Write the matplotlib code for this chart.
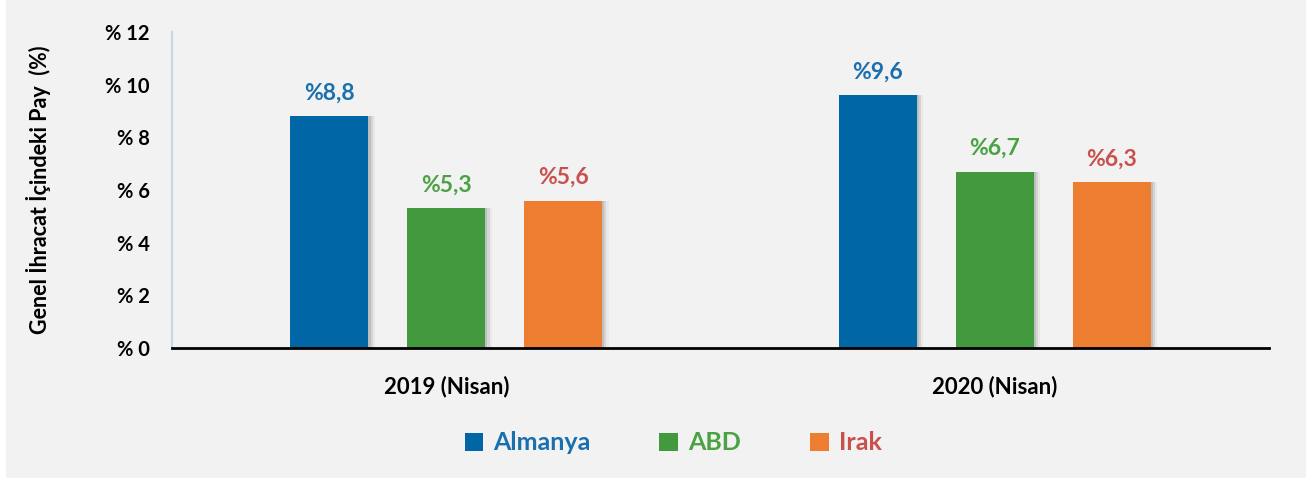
import numpy as np
import matplotlib.pyplot as plt
from matplotlib.patches import Patch, Rectangle

plt.rcParams['font.family'] = ['Lato', 'DejaVu Sans']

# data
periods = ['2019 (Nisan)', '2020 (Nisan)']
countries = ['Almanya', 'ABD', 'Irak']
almanya = [8.8, 9.6]
abd = [5.3, 6.7]
irak = [5.6, 6.3]
value_labels = [['%8,8', '%9,6'], ['%5,3', '%6,7'], ['%5,6', '%6,3']]

bar_colors = ['#0066a6', '#43993d', '#ed7d31']
text_colors = ['#1a6fae', '#4aa243', '#c9504d']

fig = plt.figure(figsize=(13.06, 4.82), dpi=100)
fig.patches.append(Rectangle((6 / 1306, 4 / 482), 1, 1, transform=fig.transFigure,
                             facecolor='#f2f2f2', edgecolor='none', zorder=-10))
ax = fig.add_axes([172 / 1306, 1 - 348 / 482, 1097 / 1306, 316 / 482])
ax.set_facecolor('none')

x = np.arange(len(periods))
width = 0.142
step = 0.213
series = [almanya, abd, irak]

for i, vals in enumerate(series):
    pos = x + (i - 1) * step
    # soft shadow on right side
    for k, a in enumerate([0.18, 0.12, 0.06]):
        ax.bar(pos + 0.004 + k * 0.004, vals, width, color='#555555', alpha=a,
               zorder=1, linewidth=0)
    ax.bar(pos, vals, width, color=bar_colors[i], zorder=2, linewidth=0)
    for p, v, lab in zip(pos, vals, value_labels[i]):
        ax.annotate(lab, (p, v), xytext=(0, 9), textcoords='offset points',
                    ha='center', va='bottom', fontsize=16.5, fontweight='bold',
                    color=text_colors[i])

ax.set_xlim(-0.5, 1.5)
ax.set_ylim(0, 12)
ax.set_yticks(range(0, 13, 2))
ax.set_yticklabels([f'% {t}' for t in range(0, 13, 2)], fontsize=14.5, fontweight='bold')
ax.set_xticks(x)
ax.set_xticklabels(periods, fontsize=16, fontweight='bold')
ax.tick_params(axis='y', length=0, pad=16)
ax.tick_params(axis='x', length=0, pad=20)

for s in ['top', 'right']:
    ax.spines[s].set_visible(False)
ax.spines['left'].set_color('#c5d5ea')
ax.spines['left'].set_linewidth(1.5)
ax.spines['bottom'].set_color('black')
ax.spines['bottom'].set_linewidth(2)
ax.spines['bottom'].set_zorder(3)

ax.set_ylabel('Genel İhracat İçindeki Pay  (%)', fontsize=15.5, fontweight='bold')
ax.yaxis.set_label_coords(-0.11, 0.5)

handles = [Patch(facecolor=c, edgecolor='none') for c in bar_colors]
leg = fig.legend(handles, countries, loc='center', bbox_to_anchor=(673 / 1306, 1 - 443 / 482),
                 ncol=3, frameon=False, fontsize=18, handlelength=0.75, handleheight=0.75,
                 handletextpad=0.4, columnspacing=2.75)
for t, c in zip(leg.get_texts(), text_colors):
    t.set_color(c)
    t.set_fontweight('bold')

fig.savefig('out.png', dpi=100)
